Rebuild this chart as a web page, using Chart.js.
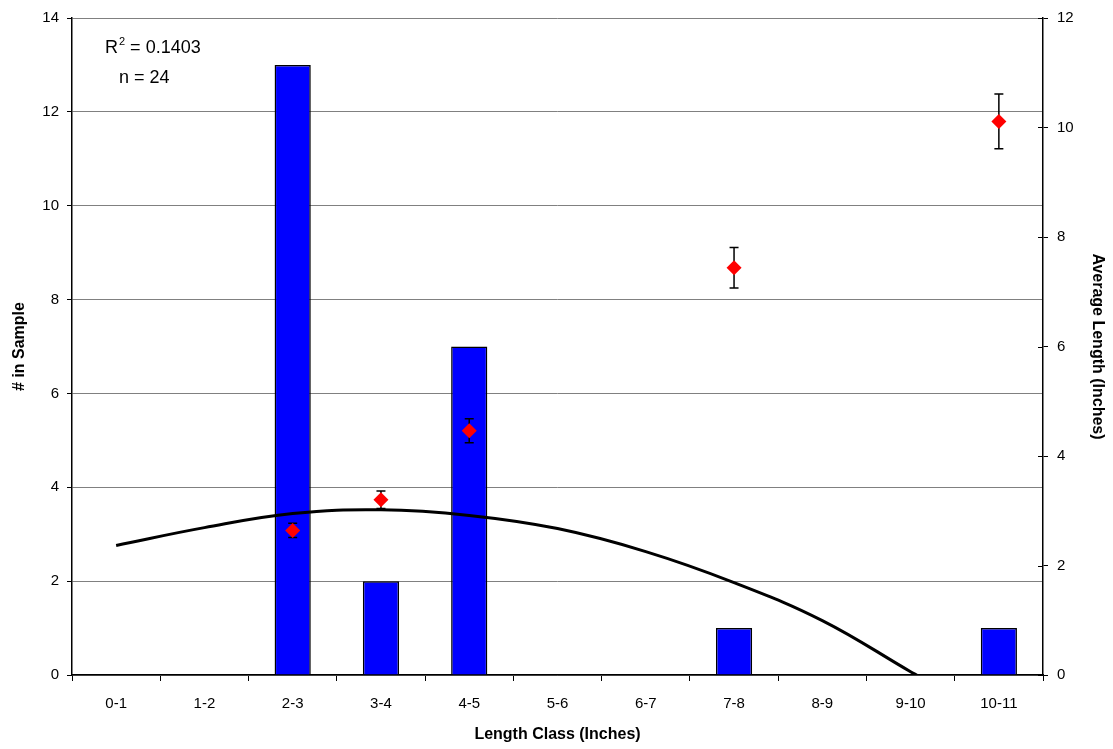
<!DOCTYPE html>
<html>
<head>
<meta charset="utf-8">
<script src="https://cdn.jsdelivr.net/npm/chart.js@4/dist/chart.umd.min.js"></script>
<style>
  html, body { margin: 0; padding: 0; background: #ffffff; }
  #wrap { width: 1113px; height: 749px; }
</style>
</head>
<body>
<div id="wrap"><canvas id="c" width="1113" height="749"></canvas></div>
<script>
// Length classes (inches)
const lengthClasses = ['0-1', '1-2', '2-3', '3-4', '4-5', '5-6', '6-7', '7-8', '8-9', '9-10', '10-11'];
// Number of fish in each class
const sampleCounts = [0, 0, 13, 2, 7, 0, 0, 1, 0, 0, 1];
// Average length within each class, with its error
const avgLength = [null, null, 2.64, 3.20, 4.46, null, null, 7.44, null, null, 10.11];
const avgError  = [null, null, 0.13, 0.16, 0.22, null, null, 0.37, null, null, 0.50];
// Polynomial trend of the counts (class index, count)
const trendX = [0, 1, 2, 3, 4, 5, 6, 7, 8, 9, 9.07];
const trendY = [2.76, 3.14, 3.44, 3.52, 3.40, 3.12, 2.63, 1.97, 1.16, 0.07, 0];
// Left and right tick values
const leftTicks = [0, 2, 4, 6, 8, 10, 12, 14];
const rightTicks = [0, 2, 4, 6, 8, 10, 12];
// Annotation lines
const fitR2 = '0.1403';
const sampleN = '24';

const FONT = "'Liberation Sans', Arial, sans-serif";

const errorBarPlugin = {
  id: 'errorBars',
  beforeDatasetDraw(chart, args) {
    if (args.index !== 2) return;
    const ctx = chart.ctx;
    const xs = chart.scales.x, ys = chart.scales.y1;
    ctx.save();
    ctx.strokeStyle = '#000000';
    ctx.lineWidth = 1.5;
    avgLength.forEach((v, i) => {
      if (v === null) return;
      const e = avgError[i];
      const px = xs.getPixelForValue(i);
      const top = ys.getPixelForValue(v + e);
      const bot = ys.getPixelForValue(v - e);
      ctx.beginPath();
      ctx.moveTo(px, top); ctx.lineTo(px, bot);
      ctx.moveTo(px - 4.5, top); ctx.lineTo(px + 4.5, top);
      ctx.moveTo(px - 4.5, bot); ctx.lineTo(px + 4.5, bot);
      ctx.stroke();
    });
    ctx.restore();
  }
};

const framePlugin = {
  id: 'frame',
  afterDraw(chart) {
    const ctx = chart.ctx;
    const a = chart.chartArea;
    const y1 = chart.scales.y1;
    ctx.save();
    // inner half of the right-axis ticks
    ctx.strokeStyle = '#000000';
    ctx.lineWidth = 1;
    rightTicks.forEach(t => {
      const py = Math.round(y1.getPixelForValue(t)) + 0.5;
      ctx.beginPath();
      ctx.moveTo(a.right - 5, py); ctx.lineTo(a.right, py);
      ctx.stroke();
    });
    // fit statistics
    ctx.fillStyle = '#000000';
    ctx.textBaseline = 'alphabetic';
    ctx.font = '18px ' + FONT;
    const x0 = a.left + 33, yb = a.top + 35;
    ctx.fillText('R', x0, yb);
    const rw = ctx.measureText('R').width;
    ctx.font = '11px ' + FONT;
    ctx.fillText('2', x0 + rw + 1, yb - 8);
    const sw = ctx.measureText('2').width;
    ctx.font = '18px ' + FONT;
    ctx.fillText(' = ' + fitR2, x0 + rw + 1 + sw, yb);
    ctx.fillText('n = ' + sampleN, a.left + 47, yb + 30);
    ctx.restore();
  }
};

new Chart(document.getElementById('c'), {
  type: 'bar',
  data: {
    labels: lengthClasses,
    datasets: [
      {
        type: 'bar',
        label: '# in Sample',
        data: sampleCounts,
        backgroundColor: '#0000FF',
        borderColor: '#000000',
        borderWidth: 1.5,
        grouped: false,
        barPercentage: 0.41,
        categoryPercentage: 1,
        yAxisID: 'y',
        xAxisID: 'x',
        order: 3
      },
      {
        type: 'line',
        label: 'Trend',
        data: trendX.map((x, i) => ({ x: x, y: trendY[i] })),
        borderColor: '#000000',
        borderWidth: 3,
        pointRadius: 0,
        tension: 0.4,
        fill: false,
        xAxisID: 'xc',
        yAxisID: 'y',
        order: 2
      },
      {
        type: 'line',
        label: 'Average Length',
        data: avgLength,
        showLine: false,
        spanGaps: false,
        pointStyle: 'rectRot',
        pointRadius: 7.5,
        pointBackgroundColor: '#FF0000',
        pointBorderColor: '#FF0000',
        pointBorderWidth: 0,
        xAxisID: 'x',
        yAxisID: 'y1',
        order: 1
      }
    ]
  },
  options: {
    responsive: false,
    animation: false,
    devicePixelRatio: 1,
    layout: { padding: { top: 13, left: 0, right: 0, bottom: 0 } },
    plugins: {
      legend: { display: false },
      tooltip: { enabled: false }
    },
    scales: {
      x: {
        type: 'category',
        offset: true,
        grid: { offset: true, drawOnChartArea: false, color: '#000000', tickLength: 6, tickWidth: 1 },
        border: { color: '#000000', width: 1.5 },
        ticks: { color: '#000000', font: { family: FONT, size: 15 }, padding: 14, maxRotation: 0 },
        title: { display: true, text: 'Length Class (Inches)', color: '#000000',
                 font: { family: FONT, size: 16, weight: 'bold' }, padding: { top: 6, bottom: 5 } },
        afterFit(s) { s.height = 74; }
      },
      xc: {
        type: 'linear',
        display: false,
        offset: false,
        grid: { offset: false },
        min: -0.5,
        max: 10.5
      },
      y: {
        position: 'left',
        min: 0,
        max: 14,
        afterBuildTicks(s) { s.ticks = leftTicks.map(v => ({ value: v })); },
        grid: { color: '#808080', lineWidth: 1, tickLength: 5, tickColor: '#000000' },
        border: { color: '#000000', width: 1.5 },
        ticks: { color: '#000000', font: { family: FONT, size: 15 }, padding: 8 },
        title: { display: true, text: '# in Sample', color: '#000000',
                 font: { family: FONT, size: 16, weight: 'bold' }, padding: { top: 10, bottom: 0 } },
        afterFit(s) { s.width = 72; }
      },
      y1: {
        position: 'right',
        min: 0,
        max: 12,
        afterBuildTicks(s) { s.ticks = rightTicks.map(v => ({ value: v })); },
        grid: { drawOnChartArea: false, color: '#000000', tickLength: 5 },
        border: { color: '#000000', width: 1.5 },
        ticks: { color: '#000000', font: { family: FONT, size: 15 }, padding: 9 },
        title: { display: true, text: 'Average Length (Inches)', color: '#000000',
                 font: { family: FONT, size: 16, weight: 'bold' }, padding: { top: 6, bottom: 0 } },
        afterFit(s) { s.width = 70; }
      }
    }
  },
  plugins: [errorBarPlugin, framePlugin]
});
</script>
</body>
</html>
